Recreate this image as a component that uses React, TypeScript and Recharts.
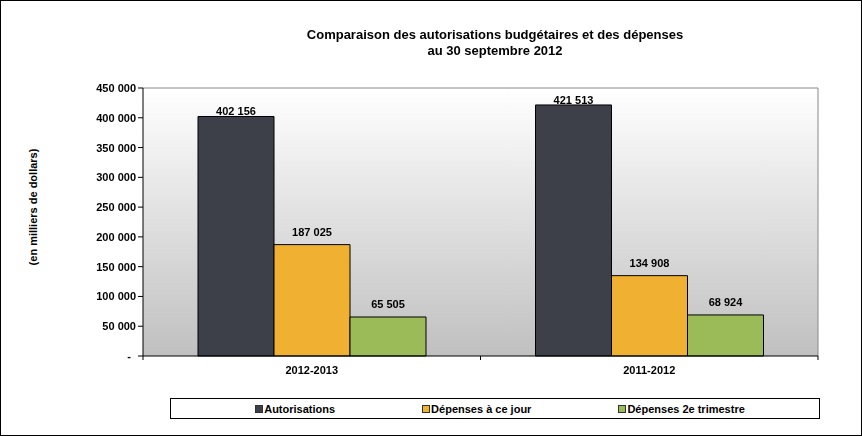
import { BarChart, Bar, XAxis, YAxis, CartesianGrid, LabelList } from "recharts"

const categories = ["2012-2013", "2011-2012"]
const autorisations = [402156, 421513]
const depensesCeJour = [187025, 134908]
const depensesTrimestre = [65505, 68924]
const yTicks = [0, 50000, 100000, 150000, 200000, 250000, 300000, 350000, 400000, 450000]

const series = [
  { key: "autorisations", name: "Autorisations", color: "#3d4049", labelOffset: 1 },
  { key: "depensesCeJour", name: "Dépenses à ce jour", color: "#f0b032", labelOffset: 9 },
  { key: "depensesTrimestre", name: "Dépenses 2e trimestre", color: "#9bbb59", labelOffset: 9 },
]

const data = categories.map((name, i) => ({
  name,
  autorisations: autorisations[i],
  depensesCeJour: depensesCeJour[i],
  depensesTrimestre: depensesTrimestre[i],
}))

const FONT = '"Liberation Sans", Arial, sans-serif'

// thousands with a space, like the French format in the source
const fmt = (v: number) => v.toLocaleString("en-US").replace(/,/g, " ")

const YTick = ({ x, y, payload }: any) => {
  const v = payload.value as number
  return (
    <text
      x={v === 0 ? x - 5 : x}
      y={y}
      dy={4}
      textAnchor="end"
      fontFamily={FONT}
      fontSize={11}
      fontWeight="bold"
      fill="#000"
    >
      {v === 0 ? "-" : fmt(v)}
    </text>
  )
}

// category label plus small tick marks on the band edges (Excel style)
const XTick = ({ x, y, payload }: any) => {
  const half = payload.offset || 0
  const axisY = y - 6
  return (
    <g>
      <line x1={x - half} x2={x - half} y1={axisY} y2={axisY + 4} stroke="#000" />
      <line x1={x + half} x2={x + half} y1={axisY} y2={axisY + 4} stroke="#000" />
      <text
        x={x}
        y={axisY + 18}
        textAnchor="middle"
        fontFamily={FONT}
        fontSize={11}
        fontWeight="bold"
        fill="#000"
      >
        {payload.value}
      </text>
    </g>
  )
}

export default function App() {
  return (
    <div
      style={{
        position: "fixed",
        left: 0,
        top: 0,
        width: 862,
        height: 436,
        boxSizing: "border-box",
        border: "1px solid #000",
        background: "#fff",
        fontFamily: FONT,
      }}
    >
      <div
        style={{
          position: "absolute",
          left: 0,
          top: 26,
          width: 988,
          textAlign: "center",
          fontSize: 13,
          fontWeight: "bold",
          lineHeight: "16px",
        }}
      >
        Comparaison des autorisations budgétaires et des dépenses
        <br />
        au 30 septembre 2012
      </div>
      <div
        style={{
          position: "absolute",
          left: 32,
          top: 206,
          transform: "translate(-50%, -50%) rotate(-90deg)",
          whiteSpace: "nowrap",
          fontSize: 11,
          fontWeight: "bold",
        }}
      >
        (en milliers de dollars)
      </div>

      <div style={{ position: "absolute", left: -1, top: -1 }}>
        <BarChart
          width={862}
          height={436}
          data={data}
          margin={{ top: 88, right: 44, left: 0, bottom: 50 }}
          barCategoryGap={55}
          barGap={0}
        >
          <defs>
            <linearGradient id="plotBg" x1="0" y1="0" x2="0" y2="1">
              <stop offset="0%" stopColor="#ffffff" />
              <stop offset="100%" stopColor="#c0c0c0" />
            </linearGradient>
          </defs>
          <CartesianGrid
            fill="url(#plotBg)"
            fillOpacity={1}
            stroke="#888"
            horizontalCoordinatesGenerator={({ offset }: any) => [offset.top]}
            verticalCoordinatesGenerator={({ offset }: any) => [offset.left + offset.width]}
          />
          <XAxis
            dataKey="name"
            tickLine={false}
            axisLine={{ stroke: "#000" }}
            tickSize={6}
            tickMargin={0}
            height={30}
            tick={<XTick />}
          />
          <YAxis
            domain={[0, 450000]}
            ticks={yTicks}
            interval={0}
            tickSize={5}
            tickLine={{ stroke: "#000" }}
            axisLine={{ stroke: "#000" }}
            width={143}
            tick={<YTick />}
          />
          {series.map((s) => (
            <Bar
              key={s.key}
              dataKey={s.key}
              name={s.name}
              fill={s.color}
              stroke="#000"
              strokeWidth={1}
              isAnimationActive={false}
            >
              <LabelList
                dataKey={s.key}
                position="top"
                offset={s.labelOffset}
                formatter={(v: any) => fmt(Number(v))}
                style={{ fontFamily: FONT, fontSize: 11, fontWeight: "bold", fill: "#000" }}
              />
            </Bar>
          ))}
        </BarChart>
      </div>

      <div
        style={{
          position: "absolute",
          left: 169,
          top: 397,
          width: 650,
          height: 21,
          boxSizing: "border-box",
          border: "1px solid #000",
          background: "#fff",
          display: "flex",
          alignItems: "center",
          justifyContent: "center",
          gap: 87,
          fontSize: 11,
          fontWeight: "bold",
          paddingLeft: 10,
        }}
      >
        {series.map((s) => (
          <div key={s.key} style={{ display: "flex", alignItems: "center" }}>
            <span
              style={{
                display: "inline-block",
                width: 6,
                height: 6,
                background: s.color,
                border: "1px solid #333",
                marginRight: 1,
              }}
            />
            {s.name}
          </div>
        ))}
      </div>
    </div>
  )
}
